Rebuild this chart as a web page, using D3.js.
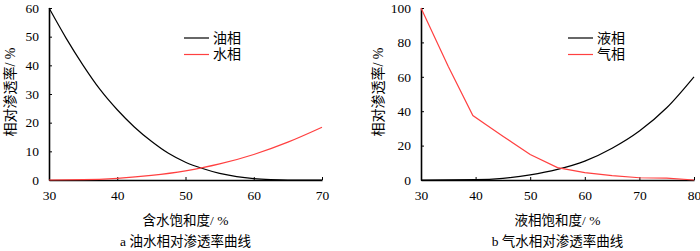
<!DOCTYPE html>
<html>
<head>
<meta charset="utf-8">
<script src="https://cdn.jsdelivr.net/npm/d3@7"></script>
<style>
  body { margin: 0; background: #fff; }
  text { font-family: "Liberation Serif", "Noto Sans CJK SC", serif; }
</style>
</head>
<body>
<div id="chart"></div>
<script>
// panel a: oil-water
const satA = [30, 32.5, 35, 37.5, 40, 42.5, 45, 47.5, 50, 52.5, 55, 57.5, 60, 62.5, 65, 70];
const oilA = [60, 49.5, 40, 31.5, 24.5, 18.5, 13.5, 9.3, 6.2, 4, 2.3, 1.2, 0.5, 0.15, 0, 0];
const waterSat = [30, 35, 40, 45, 50, 52.5, 55, 60, 65, 70];
const waterA = [0, 0.1, 0.6, 1.6, 3.2, 4.3, 5.6, 8.9, 13.2, 18.4];

// panel b: gas-liquid
const satLiq = [30, 40, 45, 50, 55, 60, 65, 70, 75, 80];
const liquidB = [0, 0.2, 1, 3, 6.2, 11, 18.5, 28.5, 42, 60];
const satGas = [30, 35, 39.5, 42, 45, 50, 55, 60, 65, 70, 75, 80];
const gasB = [100, 66, 37.5, 32, 25.5, 14.8, 7.2, 4.3, 2.6, 1.3, 1.1, 0];

const width = 700, height = 251;
const svg = d3.select("#chart").append("svg")
  .attr("width", width).attr("height", height);

const red = "#ff4040";

function panel(o) {
  const x = d3.scaleLinear().domain(o.xDomain).range(o.xRange);
  const y = d3.scaleLinear().domain(o.yDomain).range([180, 8]);
  const g = svg.append("g");

  // axes, ticks point inward
  g.append("g")
    .attr("transform", `translate(0,${y(0)})`)
    .call(d3.axisBottom(x).tickValues(o.xTicks).tickSizeInner(-3).tickSizeOuter(0).tickPadding(10))
    .call(a => a.select(".domain").attr("stroke-width", 1.6))
    .call(a => a.selectAll("text").attr("font-size", 13.5).attr("fill", "#000"));

  g.append("g")
    .attr("transform", `translate(${x(o.xDomain[0])},0)`)
    .call(d3.axisLeft(y).tickValues(o.yTicks).tickSizeInner(-3).tickSizeOuter(0).tickPadding(10))
    .call(a => a.select(".domain").attr("stroke-width", 1.6))
    .call(a => a.selectAll("text").attr("font-size", 13.5).attr("fill", "#000"));

  o.series.forEach(s => {
    const line = d3.line()
      .x((d, i) => x(s.xs[i]))
      .y(d => y(d))
      .curve(s.curve);
    g.append("path")
      .datum(s.ys)
      .attr("fill", "none")
      .attr("stroke", s.color)
      .attr("stroke-width", 1.2)
      .attr("d", line);
  });

  // legend
  o.series.forEach((s, i) => {
    const ly = 38 + i * 16.5;
    g.append("line")
      .attr("x1", o.legendX).attr("x2", o.legendX + 25)
      .attr("y1", ly).attr("y2", ly)
      .attr("stroke", s.color).attr("stroke-width", 1.2);
    g.append("text")
      .attr("x", o.legendX + 29).attr("y", ly)
      .attr("dy", "0.35em")
      .attr("font-size", 14)
      .text(s.name);
  });

  const cx = (o.xRange[0] + o.xRange[1]) / 2;
  g.append("text")
    .attr("x", cx).attr("y", 225)
    .attr("text-anchor", "middle")
    .attr("font-size", 13.5)
    .text(o.xTitle);
  g.append("text")
    .attr("x", cx).attr("y", 246)
    .attr("text-anchor", "middle")
    .attr("font-size", 13.5)
    .text(o.caption);
  g.append("text")
    .attr("transform", `translate(${o.yTitleX},92) rotate(-90)`)
    .attr("text-anchor", "middle")
    .attr("dy", "0.35em")
    .attr("font-size", 14)
    .text("相对渗透率/ %");
}

panel({
  xDomain: [30, 70], xRange: [49, 322], xTicks: [30, 40, 50, 60, 70],
  yDomain: [0, 60], yTicks: [0, 10, 20, 30, 40, 50, 60],
  series: [
    {name: "油相", xs: satA, ys: oilA, color: "#000", curve: d3.curveMonotoneX},
    {name: "水相", xs: waterSat, ys: waterA, color: red, curve: d3.curveMonotoneX}
  ],
  legendX: 184, xTitle: "含水饱和度/ %", caption: "a 油水相对渗透率曲线", yTitleX: 10
});

panel({
  xDomain: [30, 80], xRange: [421, 694], xTicks: [30, 40, 50, 60, 70, 80],
  yDomain: [0, 100], yTicks: [0, 20, 40, 60, 80, 100],
  series: [
    {name: "液相", xs: satLiq, ys: liquidB, color: "#000", curve: d3.curveMonotoneX},
    {name: "气相", xs: satGas, ys: gasB, color: red, curve: d3.curveLinear}
  ],
  legendX: 568, xTitle: "液相饱和度/ %", caption: "b 气水相对渗透率曲线", yTitleX: 378
});
</script>
</body>
</html>
